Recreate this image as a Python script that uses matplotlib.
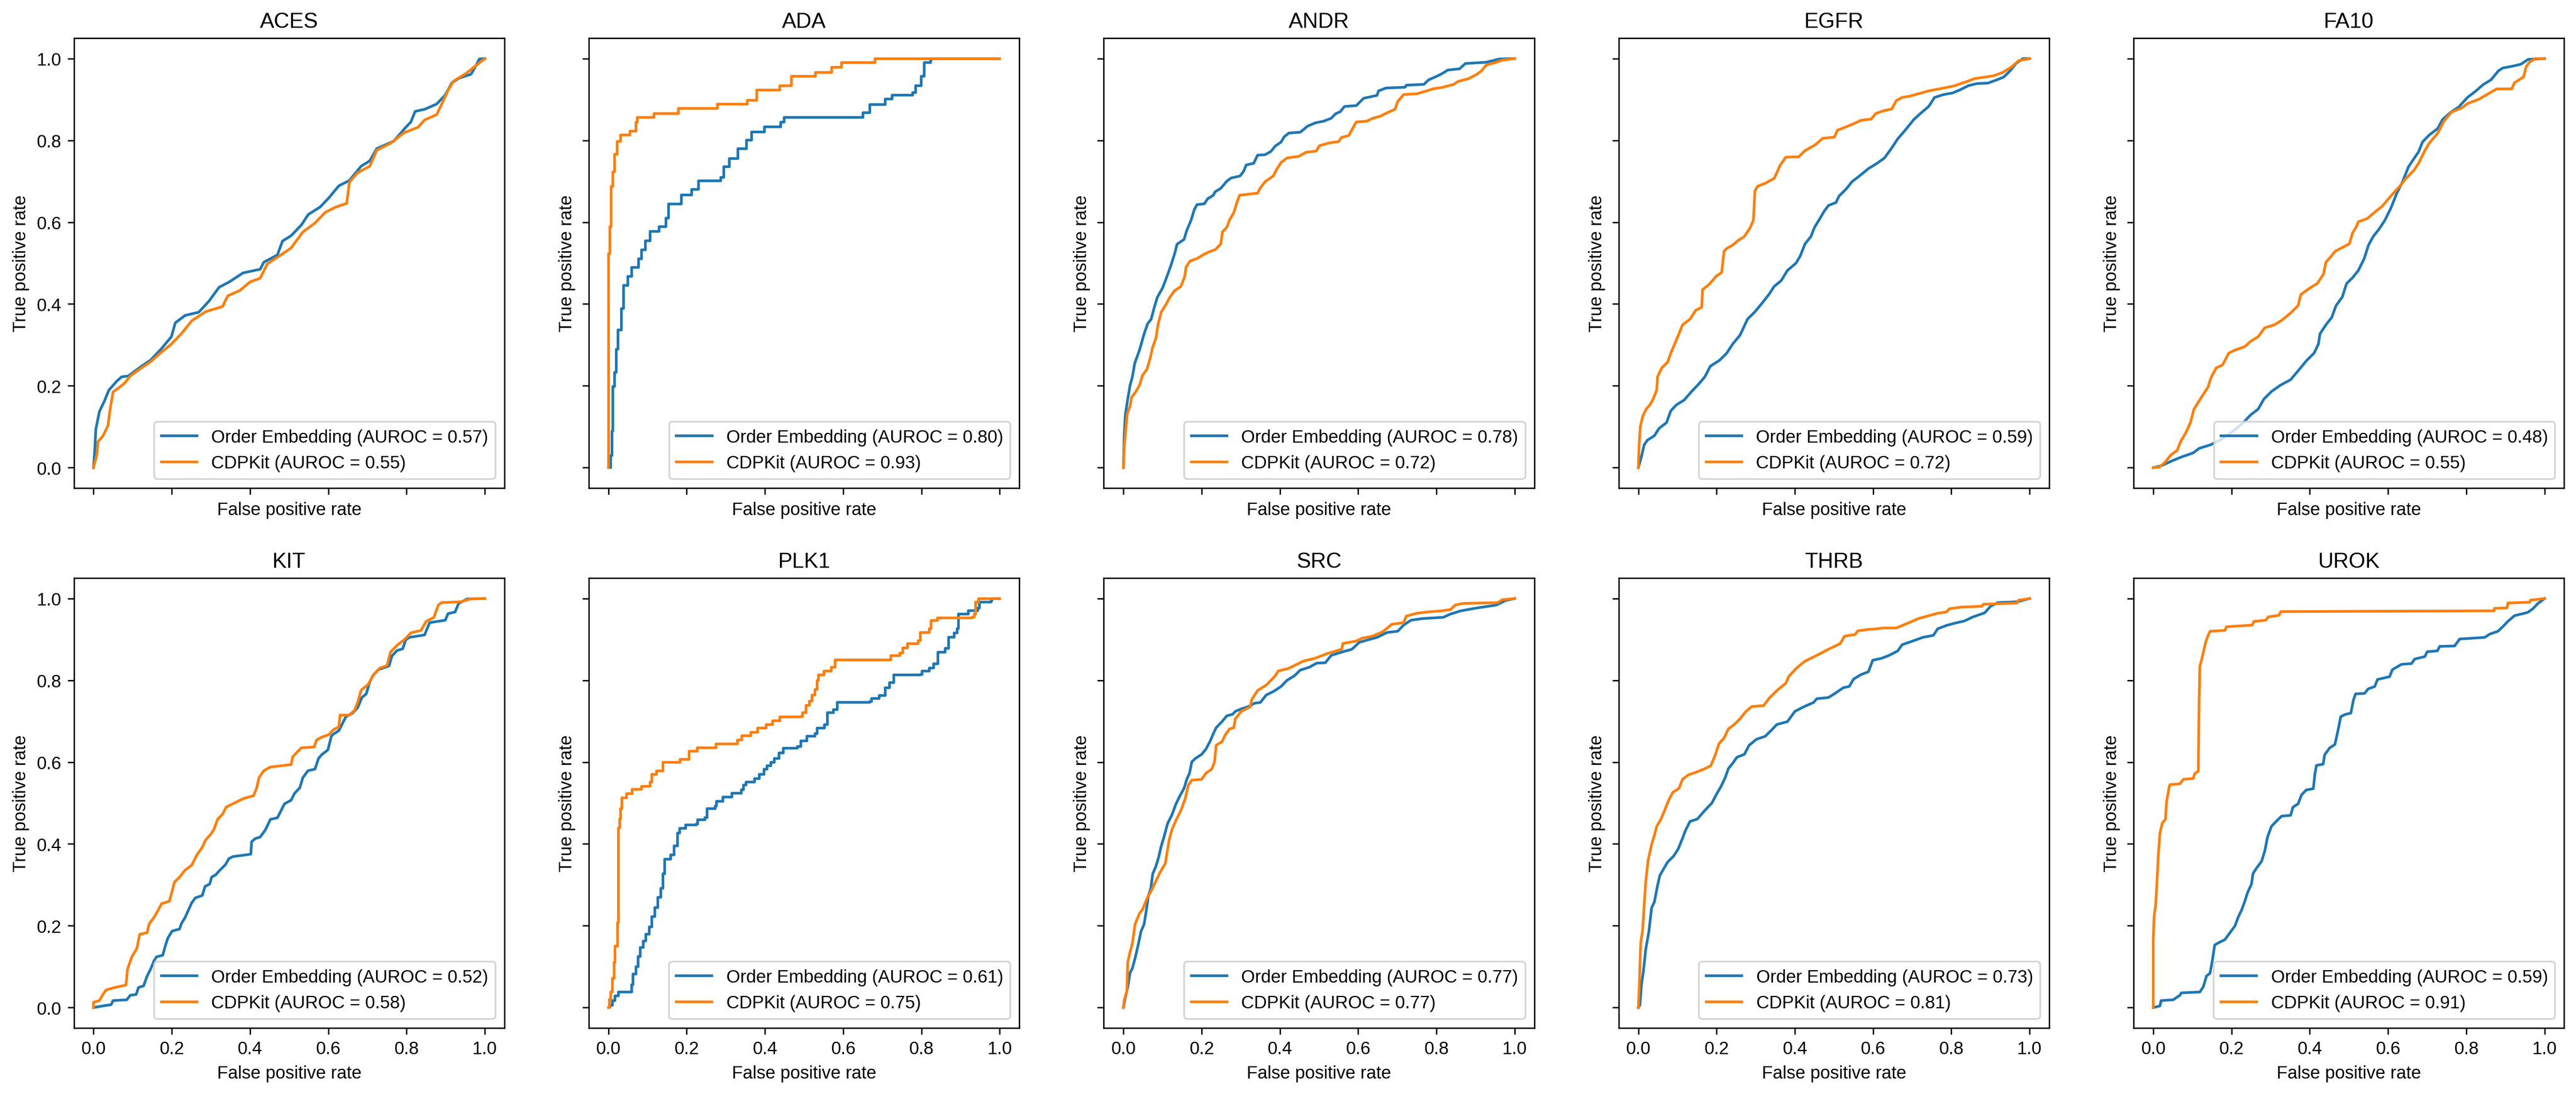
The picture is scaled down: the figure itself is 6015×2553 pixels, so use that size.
import matplotlib
matplotlib.use("Agg")
import matplotlib.pyplot as plt
import numpy as np

plt.rcParams['font.family'] = ['Liberation Sans', 'DejaVu Sans']

targets = ["ACES", "ADA", "ANDR", "EGFR", "FA10",
           "KIT", "PLK1", "SRC", "THRB", "UROK"]
auroc_oe = [0.57, 0.80, 0.78, 0.59, 0.48, 0.52, 0.61, 0.77, 0.73, 0.59]
auroc_cdpkit = [0.55, 0.93, 0.72, 0.72, 0.55, 0.58, 0.75, 0.77, 0.81, 0.91]

# (fpr, tpr) points
ACES_OE = [(0, 0), (0.003, 0.04), (0.006, 0.094), (0.015, 0.137), (0.028, 0.163), (0.039, 0.189),
           (0.059, 0.211), (0.072, 0.222), (0.089, 0.224), (0.12, 0.246), (0.146, 0.263), (0.172, 0.289),
           (0.199, 0.32), (0.209, 0.354), (0.234, 0.372), (0.269, 0.38), (0.295, 0.407), (0.321, 0.441),
           (0.347, 0.454), (0.382, 0.476), (0.426, 0.485), (0.435, 0.502), (0.47, 0.52), (0.483, 0.554),
           (0.505, 0.567), (0.531, 0.593), (0.549, 0.619), (0.579, 0.637), (0.601, 0.659), (0.627, 0.689),
           (0.654, 0.702), (0.684, 0.737), (0.706, 0.75), (0.724, 0.78), (0.767, 0.798), (0.798, 0.832),
           (0.811, 0.845), (0.822, 0.871), (0.846, 0.876), (0.877, 0.889), (0.899, 0.911), (0.916, 0.941),
           (0.934, 0.952), (0.965, 0.962), (0.978, 0.984), (0.986, 0.999), (1, 1)]
ACES_CDP = [(0, 0), (0.009, 0.033), (0.011, 0.063), (0.024, 0.077), (0.037, 0.103), (0.043, 0.146),
            (0.05, 0.185), (0.063, 0.194), (0.08, 0.207), (0.094, 0.224), (0.12, 0.242), (0.146, 0.259),
            (0.172, 0.281), (0.199, 0.302), (0.225, 0.328), (0.251, 0.359), (0.286, 0.381), (0.33, 0.394),
            (0.343, 0.42), (0.374, 0.433), (0.4, 0.454), (0.426, 0.463), (0.444, 0.498), (0.479, 0.52),
            (0.505, 0.537), (0.535, 0.576), (0.566, 0.598), (0.592, 0.624), (0.619, 0.637), (0.647, 0.646),
            (0.654, 0.698), (0.675, 0.721), (0.706, 0.737), (0.724, 0.776), (0.759, 0.793), (0.794, 0.819),
            (0.829, 0.832), (0.846, 0.85), (0.877, 0.863), (0.89, 0.889), (0.907, 0.924), (0.92, 0.945),
            (0.951, 0.963), (1, 1)]

ADA_OE = [(0, 0), (0.004, 0.0), (0.006, 0.03), (0.009, 0.089), (0.011, 0.198), (0.016, 0.233),
          (0.02, 0.289), (0.024, 0.337), (0.033, 0.389), (0.039, 0.445), (0.05, 0.467), (0.059, 0.489),
          (0.077, 0.51), (0.085, 0.532), (0.094, 0.554), (0.106, 0.578), (0.129, 0.589), (0.147, 0.61),
          (0.154, 0.645), (0.186, 0.667), (0.213, 0.68), (0.23, 0.701), (0.287, 0.71), (0.295, 0.736),
          (0.309, 0.756), (0.331, 0.78), (0.353, 0.801), (0.366, 0.821), (0.399, 0.833), (0.44, 0.845),
          (0.449, 0.856), (0.646, 0.856), (0.65, 0.868), (0.668, 0.888), (0.707, 0.901), (0.725, 0.911),
          (0.777, 0.917), (0.785, 0.934), (0.799, 0.957), (0.807, 0.99), (0.823, 0.998), (0.825, 1.0),
          (1, 1)]
ADA_CDP = [(0, 0), (0, 0.523), (0.004, 0.589), (0.007, 0.688), (0.011, 0.723), (0.016, 0.766),
           (0.022, 0.797), (0.031, 0.813), (0.055, 0.823), (0.07, 0.845), (0.074, 0.856), (0.116, 0.866),
           (0.179, 0.878), (0.278, 0.889), (0.355, 0.898), (0.379, 0.923), (0.438, 0.934), (0.468, 0.957),
           (0.529, 0.966), (0.571, 0.979), (0.596, 0.99), (0.681, 1.0), (1, 1)]

ANDR_OE = [(0, 0), (0.002, 0.078), (0.005, 0.129), (0.01, 0.161), (0.017, 0.201), (0.023, 0.222),
           (0.029, 0.255), (0.041, 0.287), (0.053, 0.327), (0.062, 0.352), (0.071, 0.363), (0.079, 0.392),
           (0.087, 0.417), (0.1, 0.439), (0.11, 0.464), (0.121, 0.493), (0.132, 0.526), (0.137, 0.546),
           (0.155, 0.558), (0.162, 0.58), (0.173, 0.605), (0.181, 0.63), (0.188, 0.643), (0.207, 0.645),
           (0.215, 0.657), (0.23, 0.666), (0.234, 0.674), (0.249, 0.683), (0.264, 0.7), (0.275, 0.708),
           (0.298, 0.713), (0.307, 0.724), (0.314, 0.74), (0.333, 0.744), (0.343, 0.764), (0.362, 0.765),
           (0.377, 0.773), (0.388, 0.786), (0.403, 0.796), (0.411, 0.809), (0.423, 0.818), (0.452, 0.82),
           (0.471, 0.835), (0.491, 0.843), (0.512, 0.847), (0.531, 0.854), (0.542, 0.865), (0.554, 0.87),
           (0.565, 0.883), (0.595, 0.885), (0.614, 0.903), (0.648, 0.91), (0.652, 0.921), (0.671, 0.928),
           (0.72, 0.93), (0.723, 0.935), (0.768, 0.937), (0.78, 0.948), (0.799, 0.956), (0.814, 0.963),
           (0.829, 0.972), (0.859, 0.975), (0.874, 0.988), (0.927, 0.991), (0.961, 0.999), (1, 1)]
ANDR_CDP = [(0, 0), (0.002, 0.049), (0.006, 0.092), (0.01, 0.132), (0.017, 0.15), (0.021, 0.172),
            (0.03, 0.183), (0.041, 0.201), (0.049, 0.226), (0.06, 0.24), (0.068, 0.266), (0.075, 0.295),
            (0.083, 0.316), (0.089, 0.352), (0.097, 0.381), (0.109, 0.399), (0.117, 0.414), (0.13, 0.432),
            (0.147, 0.443), (0.157, 0.468), (0.16, 0.49), (0.17, 0.505), (0.188, 0.511), (0.207, 0.522),
            (0.218, 0.527), (0.235, 0.533), (0.249, 0.547), (0.253, 0.576), (0.264, 0.587), (0.271, 0.605),
            (0.282, 0.623), (0.29, 0.648), (0.297, 0.666), (0.343, 0.671), (0.35, 0.684), (0.362, 0.699),
            (0.383, 0.713), (0.391, 0.728), (0.403, 0.746), (0.418, 0.757), (0.448, 0.761), (0.467, 0.771),
            (0.493, 0.774), (0.501, 0.787), (0.527, 0.794), (0.55, 0.797), (0.557, 0.807), (0.576, 0.812),
            (0.588, 0.833), (0.595, 0.845), (0.622, 0.847), (0.637, 0.854), (0.656, 0.859), (0.671, 0.866),
            (0.694, 0.876), (0.701, 0.895), (0.716, 0.912), (0.75, 0.914), (0.768, 0.919), (0.791, 0.926),
            (0.817, 0.93), (0.844, 0.937), (0.855, 0.944), (0.882, 0.951), (0.904, 0.962), (0.915, 0.97),
            (0.927, 0.984), (0.953, 0.991), (0.968, 0.996), (1, 1)]

EGFR_OE = [(0, 0), (0.008, 0.027), (0.015, 0.056), (0.023, 0.067), (0.041, 0.078), (0.053, 0.096),
           (0.072, 0.11), (0.083, 0.139), (0.098, 0.154), (0.117, 0.165), (0.136, 0.186), (0.154, 0.204),
           (0.17, 0.222), (0.184, 0.248), (0.207, 0.262), (0.226, 0.28), (0.241, 0.302), (0.26, 0.324),
           (0.279, 0.363), (0.298, 0.381), (0.317, 0.403), (0.335, 0.425), (0.347, 0.443), (0.365, 0.457),
           (0.381, 0.482), (0.403, 0.5), (0.414, 0.518), (0.426, 0.547), (0.441, 0.565), (0.45, 0.587),
           (0.464, 0.609), (0.475, 0.627), (0.486, 0.641), (0.505, 0.648), (0.513, 0.664), (0.531, 0.681),
           (0.546, 0.699), (0.565, 0.713), (0.588, 0.731), (0.61, 0.744), (0.629, 0.757), (0.648, 0.782),
           (0.663, 0.804), (0.682, 0.825), (0.704, 0.851), (0.72, 0.865), (0.742, 0.883), (0.757, 0.905),
           (0.78, 0.912), (0.803, 0.916), (0.821, 0.923), (0.844, 0.934), (0.866, 0.939), (0.893, 0.94),
           (0.916, 0.948), (0.934, 0.955), (0.95, 0.97), (0.965, 0.988), (0.983, 1.0), (1, 1)]
EGFR_CDP = [(0, 0), (0.002, 0.056), (0.005, 0.1), (0.011, 0.125), (0.02, 0.143), (0.03, 0.154),
            (0.038, 0.168), (0.047, 0.19), (0.049, 0.222), (0.06, 0.244), (0.075, 0.258), (0.083, 0.28),
            (0.091, 0.298), (0.102, 0.323), (0.113, 0.349), (0.132, 0.363), (0.147, 0.385), (0.162, 0.392),
            (0.164, 0.435), (0.181, 0.448), (0.2, 0.469), (0.213, 0.477), (0.219, 0.529), (0.226, 0.536),
            (0.241, 0.544), (0.256, 0.556), (0.271, 0.565), (0.286, 0.587), (0.294, 0.605), (0.298, 0.677),
            (0.305, 0.688), (0.324, 0.695), (0.347, 0.707), (0.354, 0.721), (0.362, 0.739), (0.377, 0.759),
            (0.41, 0.76), (0.426, 0.775), (0.452, 0.789), (0.471, 0.805), (0.501, 0.808), (0.509, 0.825),
            (0.528, 0.832), (0.546, 0.839), (0.569, 0.849), (0.595, 0.852), (0.607, 0.866), (0.629, 0.873),
            (0.648, 0.877), (0.659, 0.897), (0.674, 0.905), (0.693, 0.908), (0.716, 0.914), (0.742, 0.921),
            (0.78, 0.928), (0.806, 0.933), (0.84, 0.944), (0.859, 0.951), (0.908, 0.958), (0.931, 0.966),
            (0.953, 0.979), (0.972, 0.995), (1, 1)]

FA10_OE = [(0, 0), (0.019, 0.004), (0.049, 0.017), (0.072, 0.026), (0.102, 0.036), (0.117, 0.047),
           (0.147, 0.056), (0.177, 0.071), (0.208, 0.092), (0.23, 0.11), (0.249, 0.129), (0.268, 0.143),
           (0.283, 0.168), (0.302, 0.186), (0.324, 0.201), (0.351, 0.215), (0.373, 0.24), (0.392, 0.262),
           (0.411, 0.28), (0.422, 0.302), (0.426, 0.327), (0.441, 0.349), (0.456, 0.367), (0.467, 0.396),
           (0.483, 0.417), (0.494, 0.45), (0.509, 0.464), (0.524, 0.482), (0.539, 0.511), (0.55, 0.544),
           (0.562, 0.565), (0.577, 0.583), (0.592, 0.605), (0.607, 0.634), (0.622, 0.67), (0.637, 0.699),
           (0.652, 0.735), (0.663, 0.751), (0.678, 0.772), (0.688, 0.796), (0.705, 0.813), (0.727, 0.829),
           (0.739, 0.851), (0.762, 0.87), (0.78, 0.881), (0.803, 0.905), (0.822, 0.919), (0.844, 0.937),
           (0.863, 0.948), (0.882, 0.97), (0.893, 0.977), (0.916, 0.981), (0.939, 0.986), (0.958, 0.998),
           (1, 1)]
FA10_CDP = [(0, 0), (0.015, 0.001), (0.03, 0.013), (0.045, 0.031), (0.061, 0.042), (0.07, 0.064),
            (0.083, 0.085), (0.095, 0.11), (0.104, 0.143), (0.125, 0.175), (0.14, 0.197), (0.147, 0.219),
            (0.161, 0.244), (0.177, 0.251), (0.193, 0.28), (0.208, 0.287), (0.234, 0.296), (0.249, 0.309),
            (0.268, 0.32), (0.285, 0.342), (0.309, 0.349), (0.328, 0.36), (0.351, 0.378), (0.37, 0.396),
            (0.377, 0.423), (0.4, 0.439), (0.419, 0.45), (0.435, 0.473), (0.441, 0.502), (0.453, 0.515),
            (0.465, 0.529), (0.501, 0.547), (0.509, 0.573), (0.52, 0.591), (0.524, 0.601), (0.547, 0.609),
            (0.569, 0.627), (0.584, 0.638), (0.607, 0.664), (0.63, 0.688), (0.645, 0.706), (0.667, 0.728),
            (0.679, 0.746), (0.694, 0.775), (0.705, 0.793), (0.727, 0.818), (0.743, 0.847), (0.762, 0.869),
            (0.788, 0.879), (0.803, 0.89), (0.833, 0.901), (0.856, 0.914), (0.878, 0.926), (0.916, 0.926),
            (0.923, 0.941), (0.946, 0.955), (0.953, 0.98), (0.961, 0.991), (0.976, 1.0), (1, 1)]

KIT_OE = [(0, 0), (0.024, 0.004), (0.045, 0.007), (0.05, 0.017), (0.085, 0.019), (0.094, 0.03),
          (0.109, 0.032), (0.115, 0.049), (0.128, 0.053), (0.137, 0.077), (0.146, 0.094), (0.155, 0.115),
          (0.161, 0.124), (0.177, 0.128), (0.183, 0.149), (0.19, 0.17), (0.201, 0.187), (0.22, 0.192),
          (0.225, 0.206), (0.234, 0.22), (0.243, 0.239), (0.251, 0.256), (0.26, 0.268), (0.278, 0.274),
          (0.285, 0.296), (0.297, 0.302), (0.302, 0.319), (0.313, 0.325), (0.321, 0.334), (0.337, 0.349),
          (0.346, 0.364), (0.356, 0.369), (0.402, 0.375), (0.404, 0.405), (0.413, 0.413), (0.426, 0.417),
          (0.439, 0.434), (0.452, 0.46), (0.47, 0.464), (0.479, 0.481), (0.488, 0.498), (0.505, 0.507),
          (0.514, 0.524), (0.527, 0.537), (0.535, 0.562), (0.548, 0.579), (0.566, 0.583), (0.575, 0.609),
          (0.583, 0.618), (0.599, 0.63), (0.608, 0.664), (0.614, 0.669), (0.627, 0.677), (0.636, 0.694),
          (0.645, 0.711), (0.662, 0.72), (0.675, 0.733), (0.686, 0.758), (0.697, 0.767), (0.706, 0.796),
          (0.715, 0.813), (0.728, 0.826), (0.755, 0.835), (0.763, 0.86), (0.776, 0.873), (0.79, 0.877),
          (0.798, 0.899), (0.807, 0.905), (0.846, 0.911), (0.859, 0.941), (0.899, 0.947), (0.906, 0.963),
          (0.924, 0.967), (0.933, 0.988), (0.955, 0.999), (1, 1)]
KIT_CDP = [(0, 0), (0, 0.013), (0.015, 0.017), (0.024, 0.032), (0.032, 0.043), (0.054, 0.049),
           (0.083, 0.055), (0.087, 0.094), (0.098, 0.124), (0.111, 0.145), (0.118, 0.179), (0.137, 0.183),
           (0.142, 0.204), (0.155, 0.221), (0.164, 0.236), (0.174, 0.254), (0.194, 0.26), (0.201, 0.285),
           (0.207, 0.307), (0.22, 0.319), (0.234, 0.336), (0.251, 0.348), (0.264, 0.373), (0.278, 0.392),
           (0.286, 0.409), (0.3, 0.424), (0.308, 0.436), (0.317, 0.46), (0.33, 0.473), (0.339, 0.49),
           (0.356, 0.498), (0.383, 0.511), (0.409, 0.518), (0.417, 0.537), (0.423, 0.562), (0.435, 0.579),
           (0.452, 0.588), (0.505, 0.594), (0.509, 0.613), (0.522, 0.626), (0.531, 0.635), (0.564, 0.637),
           (0.57, 0.654), (0.583, 0.661), (0.601, 0.667), (0.614, 0.68), (0.627, 0.686), (0.63, 0.715),
           (0.654, 0.715), (0.667, 0.727), (0.675, 0.746), (0.684, 0.776), (0.702, 0.79), (0.715, 0.813),
           (0.732, 0.83), (0.75, 0.836), (0.759, 0.869), (0.776, 0.886), (0.794, 0.899), (0.811, 0.916),
           (0.837, 0.922), (0.85, 0.944), (0.87, 0.954), (0.881, 0.984), (0.89, 0.99), (0.938, 0.992),
           (0.964, 0.999), (1, 1)]

PLK1_OE = [(0, 0), (0.004, 0.006), (0.01, 0.017), (0.017, 0.029), (0.025, 0.038), (0.054, 0.038),
           (0.059, 0.056), (0.063, 0.082), (0.07, 0.1), (0.076, 0.125), (0.081, 0.147), (0.089, 0.163),
           (0.096, 0.179), (0.104, 0.197), (0.111, 0.222), (0.119, 0.244), (0.126, 0.269), (0.134, 0.291),
           (0.139, 0.327), (0.144, 0.363), (0.159, 0.373), (0.168, 0.395), (0.176, 0.427), (0.182, 0.438),
           (0.197, 0.447), (0.225, 0.449), (0.228, 0.459), (0.247, 0.464), (0.252, 0.486), (0.273, 0.493),
           (0.276, 0.504), (0.292, 0.515), (0.315, 0.524), (0.34, 0.532), (0.345, 0.544), (0.352, 0.551),
           (0.373, 0.56), (0.386, 0.57), (0.398, 0.583), (0.405, 0.591), (0.415, 0.599), (0.424, 0.609),
           (0.436, 0.623), (0.447, 0.634), (0.483, 0.638), (0.492, 0.652), (0.507, 0.663), (0.528, 0.67),
           (0.533, 0.683), (0.552, 0.692), (0.56, 0.721), (0.575, 0.728), (0.585, 0.746), (0.668, 0.748),
           (0.672, 0.756), (0.692, 0.763), (0.707, 0.782), (0.718, 0.794), (0.729, 0.813), (0.797, 0.814),
           (0.801, 0.823), (0.82, 0.83), (0.831, 0.84), (0.842, 0.869), (0.86, 0.878), (0.869, 0.905),
           (0.884, 0.916), (0.891, 0.926), (0.894, 0.962), (0.92, 0.97), (0.944, 0.977), (0.948, 0.991),
           (0.978, 0.994), (0.98, 1.0), (1, 1)]
PLK1_CDP = [(0, 0), (0.002, 0.02), (0.006, 0.038), (0.01, 0.071), (0.014, 0.11), (0.017, 0.15),
            (0.023, 0.168), (0.023, 0.208), (0.025, 0.439), (0.029, 0.461), (0.031, 0.486), (0.034, 0.513),
            (0.046, 0.523), (0.06, 0.533), (0.085, 0.541), (0.106, 0.551), (0.111, 0.57), (0.123, 0.579),
            (0.139, 0.599), (0.183, 0.607), (0.206, 0.627), (0.227, 0.635), (0.275, 0.645), (0.33, 0.654),
            (0.341, 0.664), (0.364, 0.673), (0.381, 0.683), (0.403, 0.692), (0.42, 0.701), (0.438, 0.711),
            (0.492, 0.712), (0.496, 0.721), (0.505, 0.739), (0.514, 0.749), (0.52, 0.764), (0.528, 0.778),
            (0.533, 0.8), (0.537, 0.813), (0.551, 0.823), (0.569, 0.832), (0.579, 0.85), (0.718, 0.85),
            (0.722, 0.86), (0.745, 0.867), (0.752, 0.879), (0.764, 0.89), (0.792, 0.897), (0.797, 0.917),
            (0.82, 0.926), (0.824, 0.946), (0.841, 0.953), (0.929, 0.955), (0.935, 0.962), (0.938, 0.991),
            (0.946, 1.0), (1, 1)]

SRC_OE = [(0, 0), (0.004, 0.02), (0.011, 0.049), (0.017, 0.085), (0.023, 0.096), (0.03, 0.121),
          (0.038, 0.154), (0.045, 0.186), (0.053, 0.204), (0.059, 0.24), (0.064, 0.273), (0.07, 0.291),
          (0.075, 0.327), (0.083, 0.345), (0.09, 0.367), (0.096, 0.392), (0.104, 0.418), (0.113, 0.45),
          (0.124, 0.471), (0.134, 0.497), (0.143, 0.515), (0.155, 0.536), (0.162, 0.558), (0.169, 0.573),
          (0.175, 0.601), (0.184, 0.609), (0.2, 0.619), (0.211, 0.632), (0.222, 0.652), (0.23, 0.67),
          (0.237, 0.684), (0.252, 0.699), (0.264, 0.713), (0.279, 0.717), (0.286, 0.724), (0.301, 0.73),
          (0.32, 0.736), (0.335, 0.744), (0.35, 0.746), (0.365, 0.764), (0.384, 0.773), (0.403, 0.785),
          (0.418, 0.8), (0.437, 0.811), (0.452, 0.825), (0.475, 0.832), (0.494, 0.842), (0.516, 0.843),
          (0.531, 0.861), (0.558, 0.869), (0.584, 0.876), (0.603, 0.893), (0.648, 0.905), (0.674, 0.917),
          (0.701, 0.92), (0.716, 0.935), (0.735, 0.947), (0.765, 0.951), (0.817, 0.954), (0.836, 0.962),
          (0.863, 0.97), (0.904, 0.977), (0.953, 0.984), (0.976, 0.995), (1, 1)]
SRC_CDP = [(0, 0), (0.002, 0.017), (0.009, 0.042), (0.011, 0.11), (0.017, 0.136), (0.023, 0.157),
           (0.03, 0.204), (0.041, 0.23), (0.049, 0.24), (0.06, 0.266), (0.072, 0.287), (0.083, 0.309),
           (0.094, 0.331), (0.107, 0.352), (0.117, 0.41), (0.124, 0.435), (0.136, 0.461), (0.147, 0.482),
           (0.158, 0.511), (0.166, 0.544), (0.175, 0.556), (0.2, 0.558), (0.211, 0.573), (0.226, 0.583),
           (0.233, 0.601), (0.237, 0.641), (0.252, 0.65), (0.26, 0.666), (0.271, 0.681), (0.282, 0.684),
           (0.286, 0.706), (0.301, 0.724), (0.324, 0.735), (0.328, 0.753), (0.343, 0.775), (0.366, 0.789),
           (0.388, 0.811), (0.396, 0.823), (0.422, 0.829), (0.46, 0.847), (0.49, 0.854), (0.52, 0.865),
           (0.558, 0.876), (0.561, 0.89), (0.595, 0.896), (0.61, 0.903), (0.637, 0.908), (0.663, 0.919),
           (0.686, 0.937), (0.716, 0.941), (0.723, 0.957), (0.75, 0.964), (0.776, 0.967), (0.814, 0.97),
           (0.836, 0.973), (0.848, 0.984), (0.867, 0.988), (0.957, 0.99), (0.968, 0.997), (1, 1)]

THRB_OE = [(0, 0), (0.004, 0.006), (0.008, 0.056), (0.013, 0.089), (0.019, 0.143), (0.027, 0.186),
           (0.034, 0.244), (0.041, 0.258), (0.049, 0.298), (0.055, 0.323), (0.064, 0.338), (0.075, 0.356),
           (0.09, 0.37), (0.102, 0.388), (0.113, 0.414), (0.12, 0.432), (0.132, 0.455), (0.151, 0.461),
           (0.17, 0.482), (0.188, 0.5), (0.2, 0.522), (0.211, 0.54), (0.222, 0.562), (0.23, 0.584),
           (0.241, 0.597), (0.252, 0.612), (0.271, 0.619), (0.283, 0.641), (0.302, 0.656), (0.324, 0.663),
           (0.339, 0.677), (0.354, 0.692), (0.381, 0.699), (0.4, 0.724), (0.422, 0.735), (0.448, 0.746),
           (0.456, 0.755), (0.486, 0.758), (0.501, 0.767), (0.524, 0.782), (0.539, 0.785), (0.55, 0.803),
           (0.569, 0.814), (0.588, 0.821), (0.599, 0.849), (0.622, 0.854), (0.641, 0.861), (0.663, 0.872),
           (0.674, 0.887), (0.704, 0.897), (0.727, 0.905), (0.754, 0.91), (0.765, 0.926), (0.787, 0.934),
           (0.81, 0.94), (0.833, 0.945), (0.855, 0.955), (0.885, 0.965), (0.9, 0.981), (0.919, 0.99),
           (0.968, 0.992), (1, 1)]
THRB_CDP = [(0, 0), (0.002, 0.042), (0.004, 0.1), (0.006, 0.157), (0.011, 0.19), (0.015, 0.251),
            (0.019, 0.309), (0.025, 0.36), (0.034, 0.399), (0.041, 0.421), (0.047, 0.443), (0.058, 0.461),
            (0.068, 0.484), (0.078, 0.508), (0.088, 0.526), (0.104, 0.536), (0.113, 0.558), (0.128, 0.569),
            (0.147, 0.575), (0.17, 0.584), (0.185, 0.591), (0.196, 0.616), (0.206, 0.645), (0.219, 0.659),
            (0.23, 0.681), (0.245, 0.692), (0.26, 0.706), (0.275, 0.724), (0.29, 0.736), (0.32, 0.738),
            (0.335, 0.757), (0.354, 0.775), (0.377, 0.793), (0.384, 0.809), (0.403, 0.829), (0.426, 0.847),
            (0.456, 0.861), (0.486, 0.876), (0.516, 0.89), (0.527, 0.908), (0.554, 0.912), (0.561, 0.921),
            (0.584, 0.924), (0.61, 0.926), (0.625, 0.928), (0.659, 0.928), (0.682, 0.937), (0.716, 0.951),
            (0.742, 0.958), (0.765, 0.964), (0.787, 0.967), (0.795, 0.975), (0.825, 0.979), (0.878, 0.981),
            (0.882, 0.986), (0.968, 0.989), (0.972, 0.996), (1, 1)]

UROK_OE = [(0, 0), (0.017, 0.004), (0.02, 0.017), (0.051, 0.019), (0.068, 0.03), (0.072, 0.036),
           (0.119, 0.038), (0.128, 0.051), (0.136, 0.077), (0.145, 0.084), (0.151, 0.115), (0.157, 0.153),
           (0.166, 0.158), (0.183, 0.166), (0.196, 0.183), (0.209, 0.2), (0.217, 0.221), (0.226, 0.239),
           (0.234, 0.26), (0.241, 0.281), (0.251, 0.302), (0.255, 0.328), (0.264, 0.341), (0.277, 0.358),
           (0.285, 0.383), (0.292, 0.417), (0.302, 0.443), (0.315, 0.456), (0.328, 0.468), (0.351, 0.47),
           (0.357, 0.49), (0.37, 0.498), (0.379, 0.52), (0.391, 0.532), (0.409, 0.535), (0.413, 0.571),
           (0.417, 0.592), (0.434, 0.595), (0.438, 0.618), (0.451, 0.635), (0.464, 0.643), (0.472, 0.677),
           (0.479, 0.711), (0.489, 0.716), (0.505, 0.72), (0.511, 0.75), (0.517, 0.767), (0.54, 0.768),
           (0.549, 0.779), (0.566, 0.785), (0.573, 0.802), (0.604, 0.809), (0.611, 0.826), (0.634, 0.839),
           (0.66, 0.841), (0.668, 0.852), (0.694, 0.858), (0.7, 0.87), (0.726, 0.872), (0.732, 0.883),
           (0.77, 0.884), (0.783, 0.901), (0.847, 0.905), (0.86, 0.913), (0.881, 0.92), (0.894, 0.932),
           (0.906, 0.944), (0.923, 0.958), (0.957, 0.966), (0.97, 0.975), (0.983, 0.988), (1, 1)]
UROK_CDP = [(0, 0), (0, 0.166), (0.002, 0.221), (0.006, 0.251), (0.009, 0.298), (0.013, 0.375),
            (0.017, 0.426), (0.023, 0.451), (0.031, 0.46), (0.034, 0.503), (0.041, 0.541), (0.043, 0.545),
            (0.068, 0.547), (0.077, 0.558), (0.102, 0.56), (0.106, 0.572), (0.115, 0.578), (0.117, 0.741),
            (0.119, 0.835), (0.123, 0.848), (0.128, 0.869), (0.134, 0.894), (0.139, 0.907), (0.145, 0.92),
            (0.183, 0.922), (0.187, 0.931), (0.253, 0.935), (0.257, 0.944), (0.287, 0.947), (0.294, 0.955),
            (0.321, 0.959), (0.326, 0.968), (0.871, 0.97), (0.872, 0.976), (0.904, 0.977), (0.906, 0.989),
            (0.962, 0.991), (0.964, 0.996), (1, 1)]

curves_oe = [ACES_OE, ADA_OE, ANDR_OE, EGFR_OE, FA10_OE, KIT_OE, PLK1_OE, SRC_OE, THRB_OE, UROK_OE]
curves_cdp = [ACES_CDP, ADA_CDP, ANDR_CDP, EGFR_CDP, FA10_CDP, KIT_CDP, PLK1_CDP, SRC_CDP, THRB_CDP, UROK_CDP]

# panels whose curves are coarse staircases
stepped = {"ADA", "PLK1"}

fig, axes = plt.subplots(2, 5, sharex=True, sharey=True, figsize=(20.05, 8.513))
fig.subplots_adjust(left=0.0287, right=0.9954, bottom=0.0603, top=0.9648, wspace=0.1963, hspace=0.2)

for idx, ax in enumerate(axes.flat):
    name = targets[idx]
    ds = 'steps-post' if name in stepped else 'default'
    oe = np.array(curves_oe[idx])
    cdp = np.array(curves_cdp[idx])
    ax.plot(oe[:, 0], oe[:, 1], color='#1f77b4', lw=1.5, drawstyle=ds,
            label=f'Order Embedding (AUROC = {auroc_oe[idx]:.2f})')
    ax.plot(cdp[:, 0], cdp[:, 1], color='#ff7f0e', lw=1.5, drawstyle=ds,
            label=f'CDPKit (AUROC = {auroc_cdpkit[idx]:.2f})')
    ax.set_title(name)
    ax.set_xlabel("False positive rate")
    ax.set_ylabel("True positive rate")
    ax.legend(loc='lower right')

axes[0, 0].set_xlim(-0.05, 1.05)
axes[0, 0].set_ylim(-0.05, 1.05)
axes[0, 0].set_xticks([0.0, 0.2, 0.4, 0.6, 0.8, 1.0])
axes[0, 0].set_yticks([0.0, 0.2, 0.4, 0.6, 0.8, 1.0])

plt.savefig('out.png', dpi=300)
